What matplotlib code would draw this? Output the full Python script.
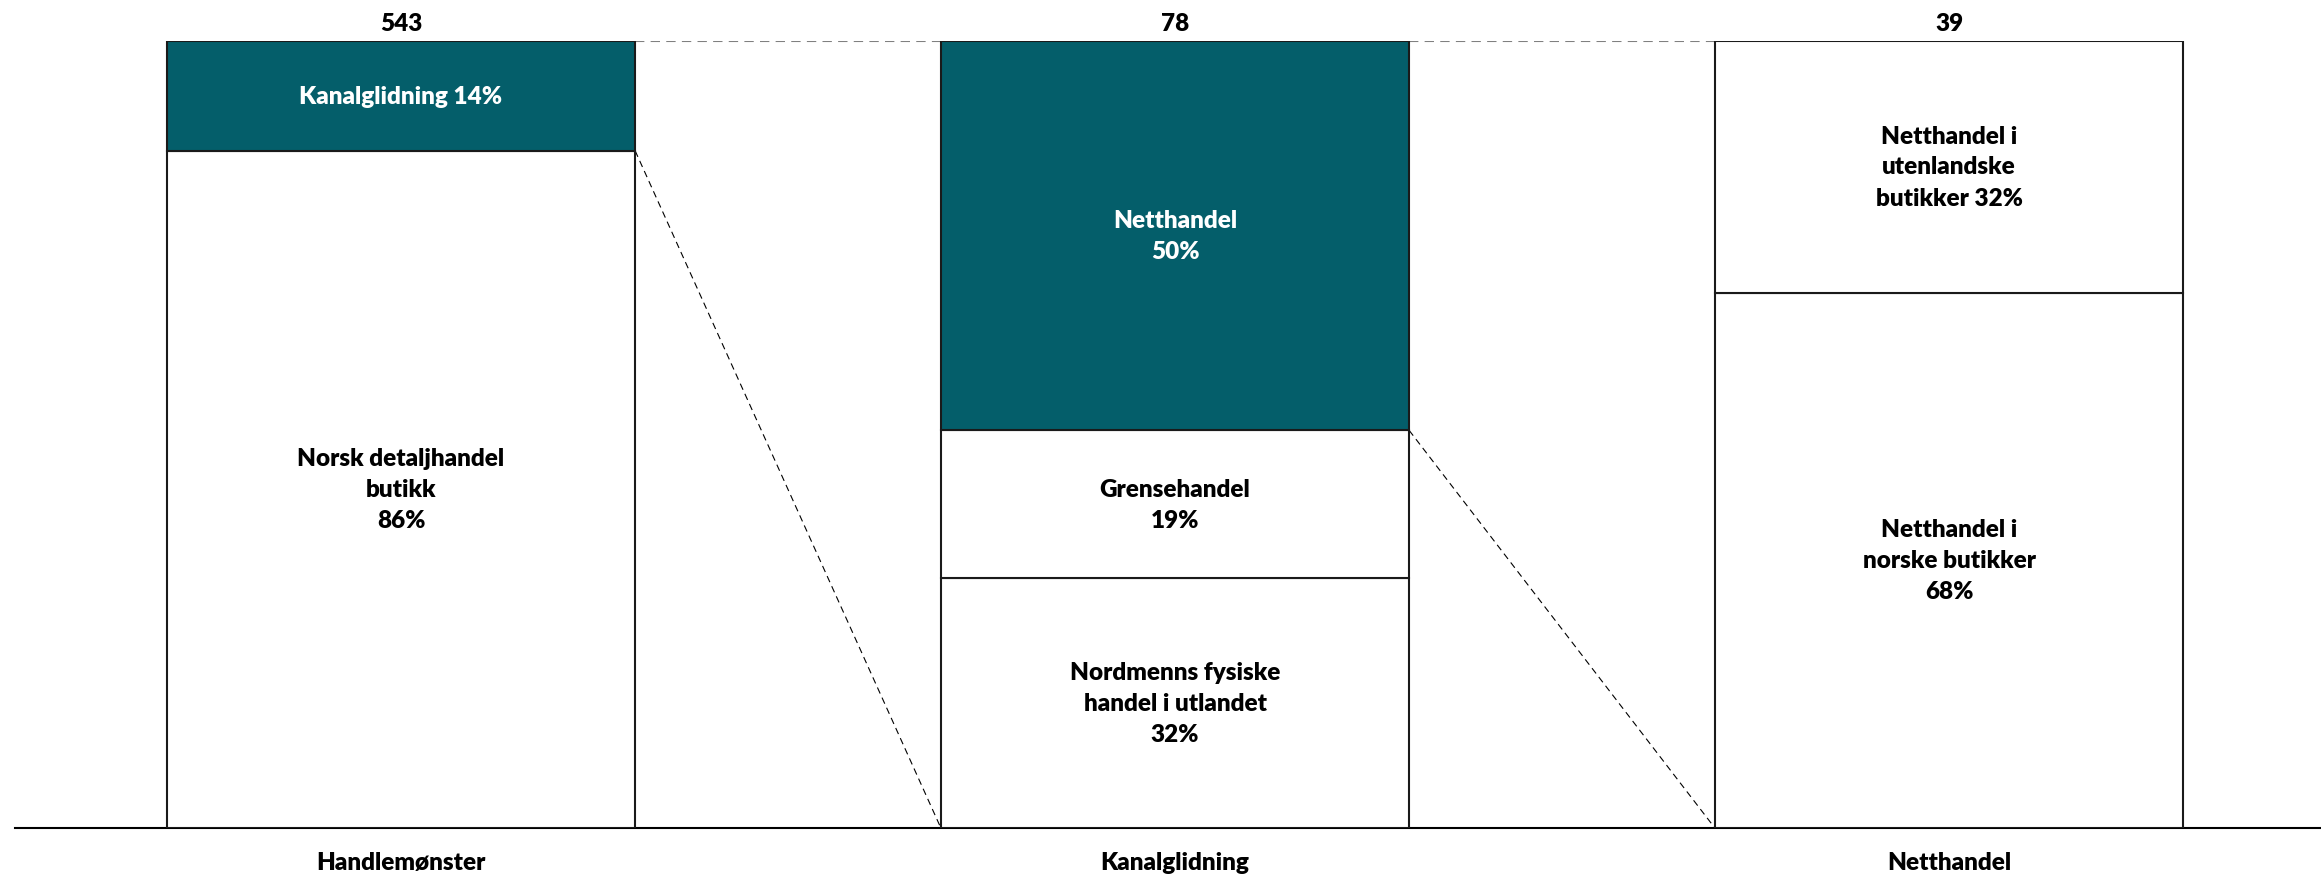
import numpy as np
import matplotlib
matplotlib.use("Agg")
import matplotlib.pyplot as plt

plt.rcParams['font.family'] = ['Lato', 'DejaVu Sans']

categories = ['Handlemønster', 'Kanalglidning', 'Netthandel']
totals = ['543', '78', '39']

# segments per bar, from bottom to top
seg_values = [
    [86, 14],
    [32, 19, 50],
    [68, 32],
]
seg_labels = [
    ['Norsk detaljhandel\nbutikk\n86%', 'Kanalglidning 14%'],
    ['Nordmenns fysiske\nhandel i utlandet\n32%', 'Grensehandel\n19%', 'Netthandel\n50%'],
    ['Netthandel i\nnorske butikker\n68%', 'Netthandel i\nutenlandske\nbutikker 32%'],
]
# which segment is highlighted (the one that is broken down in the next bar)
highlight = [1, 2, None]

teal = '#045E6A'
width = 0.605
fs = 17.5
fw = 'heavy'

fig = plt.figure(figsize=(23.21, 8.78), dpi=100)
ax = fig.add_axes([15 / 2321, 49 / 878, 1 - 15 / 2321, 787.5 / 878])

x = np.arange(len(categories))
tops = []  # (bottom, top) of highlighted segment in each bar
for i, vals in enumerate(seg_values):
    vals = np.array(vals, dtype=float)
    vals = vals / vals.sum() * 100
    bottom = 0
    for j, v in enumerate(vals):
        fc = teal if highlight[i] == j else 'white'
        tc = 'white' if highlight[i] == j else 'black'
        ax.bar(x[i], v, width, bottom=bottom, color=fc, edgecolor='#1a1a1a',
               linewidth=1.5, zorder=3)
        ax.text(x[i], bottom + v / 2, seg_labels[i][j], ha='center', va='center',
                color=tc, fontsize=fs, fontweight=fw, linespacing=1.5, zorder=4)
        if highlight[i] == j:
            tops.append((bottom, bottom + v))
        bottom += v
    ax.text(x[i], 102.2, totals[i], ha='center', va='center', fontsize=fs,
            fontweight=fw, clip_on=False)
    ax.text(x[i], -4.3, categories[i], ha='center', va='center', fontsize=fs,
            fontweight=fw, clip_on=False)

# connector lines between a highlighted segment and the next bar
for i in range(len(categories) - 1):
    lo, hi = tops[i]
    x_right = x[i] + width / 2
    x_left = x[i + 1] - width / 2
    ax.plot([x_right, x_left], [hi, 100], ls=(0, (4.5, 3)), color='#808080',
            lw=1.5, zorder=2)
    ax.plot([x_right, x_left], [lo, 0], ls=(0, (6, 4)), color='black',
            lw=0.8, zorder=2)

ax.set_xlim(-401 / 774 + 15 / 774, (2321 - 401) / 774)
ax.set_ylim(0, 100)
for s in ['top', 'left', 'right']:
    ax.spines[s].set_visible(False)
ax.spines['bottom'].set_linewidth(1.5)
ax.set_xticks([])
ax.set_yticks([])
ax.patch.set_alpha(0)

fig.savefig('out.png', dpi=100)
